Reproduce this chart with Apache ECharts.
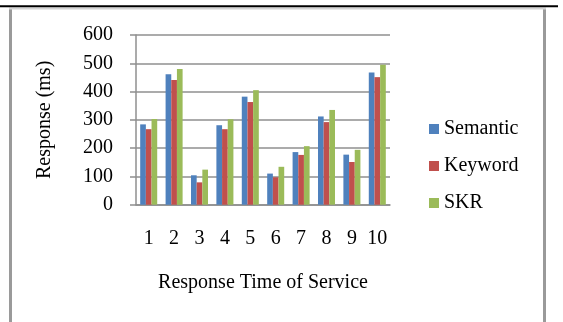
<!DOCTYPE html>
<html>
<head>
<meta charset="utf-8">
<script src="https://cdn.jsdelivr.net/npm/echarts@6/dist/echarts.min.js"></script>
<style>
  html, body { margin: 0; padding: 0; background: #fff; }
  #chart { width: 563px; height: 322px; }
</style>
</head>
<body>
<div id="chart"></div>
<script>
// Services on the x axis
const categories = ['1', '2', '3', '4', '5', '6', '7', '8', '9', '10'];

// Response times (ms) per approach
const semantic = [284, 461, 104, 281, 382, 110, 186, 312, 177, 467];
const keyword  = [267, 441, 79, 267, 363, 97, 176, 292, 151, 451];
const skr      = [303, 480, 124, 302, 405, 134, 207, 335, 194, 495];

const seriesNames = ['Semantic', 'Keyword', 'SKR'];
const seriesColors = ['#4F81BD', '#C0504D', '#9BBB59'];

const font = '"Liberation Serif", "Times New Roman", serif';
const gridGray = '#8f8f8f';

const chart = echarts.init(document.getElementById('chart'), null, { renderer: 'canvas' });

const values = [semantic, keyword, skr];

chart.setOption({
  backgroundColor: '#ffffff',
  animation: false,
  textStyle: { fontFamily: font, color: '#000' },
  grid: { left: 136, right: 173, top: 35, bottom: 117.3, containLabel: false },
  legend: {
    orient: 'vertical',
    left: 429,
    top: 119,
    padding: 0,
    itemWidth: 10,
    itemHeight: 10,
    itemGap: 17,
    icon: 'rect',
    textStyle: { fontFamily: font, fontSize: 20, color: '#000', lineHeight: 20 },
    data: seriesNames
  },
  xAxis: {
    type: 'category',
    data: categories,
    name: 'Response Time of Service',
    nameLocation: 'middle',
    nameGap: 68,
    nameTextStyle: { fontFamily: font, fontSize: 20, color: '#000' },
    axisLine: { show: true, lineStyle: { color: gridGray, width: 1.5 } },
    axisTick: { show: false },
    axisLabel: { fontFamily: font, fontSize: 20, color: '#000', margin: 24, interval: 0 }
  },
  yAxis: {
    type: 'value',
    min: 0,
    max: 600,
    interval: 100,
    name: 'Response (ms)',
    nameLocation: 'middle',
    nameGap: 81,
    nameTextStyle: { fontFamily: font, fontSize: 20, color: '#000' },
    axisLine: { show: true, lineStyle: { color: gridGray, width: 1.5 } },
    axisTick: { show: true, length: 6, lineStyle: { color: gridGray, width: 1.5 } },
    axisLabel: { fontFamily: font, fontSize: 20, color: '#000', margin: 23 },
    splitLine: { show: true, lineStyle: { color: gridGray, width: 1.5 } }
  },
  series: seriesNames.map((name, i) => ({
    name: name,
    type: 'bar',
    data: values[i],
    barGap: '0%',
    barCategoryGap: '33%',
    itemStyle: { color: seriesColors[i] }
  })),
  graphic: [
    // page frame
    {
      type: 'line', silent: true,
      shape: { x1: 10.5, y1: 8, x2: 10.5, y2: 330 },
      style: { stroke: '#9a9a9a', lineWidth: 3 }
    },
    {
      type: 'line', silent: true,
      shape: { x1: 544.5, y1: 8, x2: 544.5, y2: 330 },
      style: { stroke: '#9a9a9a', lineWidth: 3 }
    },
    {
      type: 'line', silent: true,
      shape: { x1: 9, y1: 8.5, x2: 546, y2: 8.5 },
      style: { stroke: '#d4d4d4', lineWidth: 2 }
    },
    // rule above the frame
    {
      type: 'line', silent: true,
      shape: { x1: 0, y1: 6.3, x2: 558, y2: 6.3 },
      style: { stroke: '#000', lineWidth: 2 }
    }
  ]
});
</script>
</body>
</html>
